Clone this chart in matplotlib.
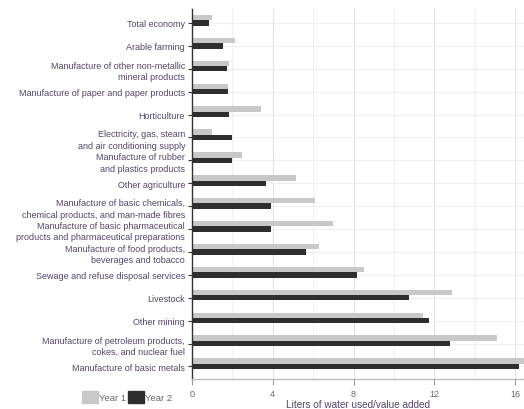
import numpy as np
import matplotlib
matplotlib.use("Agg")
import matplotlib.pyplot as plt
from matplotlib.patches import Patch
from matplotlib.ticker import MultipleLocator

plt.rcParams['font.family'] = ['Liberation Sans', 'DejaVu Sans']

# sectors, top to bottom
sectors = [
    "Total economy",
    "Arable farming",
    "Manufacture of other non-metallic\nmineral products",
    "Manufacture of paper and paper products",
    "Horticulture",
    "Electricity, gas, steam\nand air conditioning supply",
    "Manufacture of rubber\nand plastics products",
    "Other agriculture",
    "Manufacture of basic chemicals,\nchemical products, and man-made fibres",
    "Manufacture of basic pharmaceutical\nproducts and pharmaceutical preparations",
    "Manufacture of food products,\nbeverages and tobacco",
    "Sewage and refuse disposal services",
    "Livestock",
    "Other mining",
    "Manufacture of petroleum products,\ncokes, and nuclear fuel",
    "Manufacture of basic metals",
]
year1 = [1.0, 2.13, 1.85, 1.8, 3.4, 0.97, 2.5, 5.15, 6.1, 6.96, 6.27,
         8.53, 12.89, 11.42, 15.1, 16.6]
year2 = [0.86, 1.55, 1.72, 1.77, 1.82, 1.96, 1.98, 3.66, 3.9, 3.93, 5.64,
         8.15, 10.76, 11.72, 12.77, 16.2]

light = '#c8c8c8'
dark = '#2e2e2e'
label_col = '#54446a'

fig = plt.figure(figsize=(5.24, 4.10), dpi=100)
ax = fig.add_axes([0.3664, 0.0732, 0.6336, 0.9024])

y = np.arange(len(sectors))
h = 0.235
ax.barh(y - h, year1, height=h, color=light, zorder=2)
ax.barh(y, year2, height=h, color=dark, zorder=2)

ax.set_xlim(0, 16.44)
ax.set_ylim(15.55, -0.61)

ax.set_yticks(y)
ax.set_yticklabels(sectors, fontsize=6.5, color=label_col, ha='right',
                   multialignment='right', linespacing=1.35)
ax.tick_params(axis='y', length=3, width=0.8, color='#333333', pad=2)

ax.xaxis.set_major_locator(MultipleLocator(4))
ax.xaxis.set_minor_locator(MultipleLocator(2))
ax.tick_params(axis='x', which='major', length=4, width=0.8, color='#999999',
               labelsize=6.5, labelcolor='#666666', pad=3)
ax.tick_params(axis='x', which='minor', length=0)

# grid behind the bars
ax.grid(axis='x', which='major', color='#e2e2e2', lw=0.8, zorder=0)
ax.grid(axis='x', which='minor', color='#f0f0f0', lw=0.8, zorder=0)
ax.grid(axis='y', which='major', color='#efefef', lw=0.8, zorder=0)
ax.set_axisbelow(True)

for s in ['top', 'right']:
    ax.spines[s].set_visible(False)
ax.spines['left'].set_color('#333333')
ax.spines['left'].set_linewidth(1.0)
ax.spines['bottom'].set_color('#bbbbbb')
ax.spines['bottom'].set_linewidth(1.0)

ax.set_xlabel("Liters of water used/value added", fontsize=7.2, color=label_col,
              labelpad=1)

handles = [Patch(color=light, label="Year 1"), Patch(color=dark, label="Year 2")]
fig.legend(handles=handles, loc='lower left', bbox_to_anchor=(0.145, 0.0),
           ncol=2, frameon=False, fontsize=6.8, labelcolor='#666666',
           handlelength=1.7, handleheight=1.7, handletextpad=0.15,
           columnspacing=0.2, borderpad=0.1)

fig.savefig("out.png", dpi=100)
